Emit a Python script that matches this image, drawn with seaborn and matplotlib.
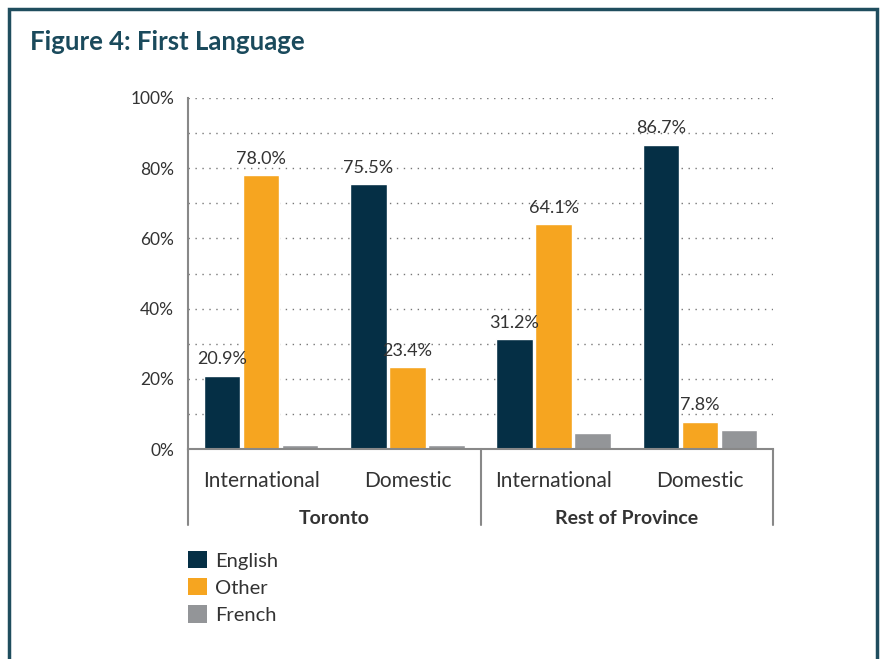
import matplotlib
matplotlib.use("Agg")
import matplotlib.pyplot as plt
from matplotlib.patches import Rectangle, Patch
from matplotlib.ticker import MultipleLocator, FuncFormatter
import matplotlib.transforms as mtransforms
import seaborn as sns
import pandas as pd

# ---- data ----
regions = ["Toronto", "Toronto", "Rest of Province", "Rest of Province"]
student_types = ["International", "Domestic", "International", "Domestic"]
languages = ["English", "Other", "French"]
english = [20.9, 75.5, 31.2, 86.7]
other = [78.0, 23.4, 64.1, 7.8]
french = [1.1, 1.1, 4.7, 5.5]
group_labels = ["Toronto", "Rest of Province"]
title = "Figure 4: First Language"
yticks = [0, 20, 40, 60, 80, 100]

colors = {"English": "#052f45", "Other": "#f6a520", "French": "#939598"}

cats = [f"{r}|{s}" for r, s in zip(regions, student_types)]
rows = []
for lang, vals in zip(languages, [english, other, french]):
    for c, v in zip(cats, vals):
        rows.append({"cat": c, "lang": lang, "value": v})
df = pd.DataFrame(rows)

sns.set_theme(style="white")
plt.rcParams["font.family"] = ["Lato", "DejaVu Sans"]
text_color = "#333333"

fig = plt.figure(figsize=(8.83, 6.59), dpi=100)
W, H = 883, 659
ax = fig.add_axes([188 / W, 1 - 449 / H, (773 - 188) / W, (449 - 98) / H])

sns.barplot(data=df, x="cat", y="value", hue="lang", order=cats,
            hue_order=languages, palette=colors, width=0.8, gap=0.06,
            saturation=1, ax=ax, legend=False, errorbar=None)

ax.set_xlim(-0.5, len(cats) - 0.5)
ax.set_ylim(0, 100)
ax.set_yticks(yticks)
ax.yaxis.set_minor_locator(MultipleLocator(10))
ax.yaxis.set_major_formatter(FuncFormatter(lambda v, p: f"{v:.0f}%"))
ax.grid(which="both", axis="y", linestyle=(0, (1, 4)), color="#777777", linewidth=1.0)
ax.set_axisbelow(True)
ax.tick_params(axis="y", which="both", length=0, labelsize=12.5, labelcolor=text_color, pad=10)
ax.tick_params(axis="x", length=0, labelsize=15, labelcolor=text_color, pad=16)
ax.set_xticks(range(len(cats)))
ax.set_xticklabels(student_types)
ax.set_xlabel("")
ax.set_ylabel("")
for s in ["top", "right"]:
    ax.spines[s].set_visible(False)
for s in ["left", "bottom"]:
    ax.spines[s].set_color("#888888")
    ax.spines[s].set_linewidth(1.5)

# value labels for English and Other
for cont, lang in zip(ax.containers, languages):
    if lang in ("English", "Other"):
        ax.bar_label(cont, fmt="%.1f%%", padding=6, fontsize=13, color=text_color)

# group separators and labels below axis
trans = mtransforms.blended_transform_factory(ax.transData, ax.transAxes)
sep_bottom = -(525 - 449) / (449 - 98)
for xpos in [-0.5, 1.5, 3.5]:
    ax.plot([xpos, xpos], [0, sep_bottom], transform=trans, color="#888888",
            linewidth=1.5, clip_on=False)
for i, g in enumerate(group_labels):
    ax.text(2 * i + 0.5, -(519 - 449) / (449 - 98), g, transform=trans,
            ha="center", va="center", fontsize=14, fontweight="bold", color=text_color)

# legend
handles = [Patch(facecolor=colors[l], edgecolor="none") for l in languages]
fig.legend(handles, languages, loc="upper left",
           bbox_to_anchor=(188 / W, 1 - 551 / H), frameon=False,
           borderaxespad=0, borderpad=0,
           fontsize=14.5, handlelength=0.95, handleheight=0.95,
           handletextpad=0.4, labelspacing=0.42, labelcolor=text_color)

# title
fig.text(30 / W, 1 - 42 / H, title, ha="left", va="center", fontsize=18.5,
         fontweight="bold", color="#1a4a5c")

# frame
fig.add_artist(Rectangle((9 / W, -0.05), (877 - 9) / W, 1 - 9 / H + 0.05,
                         transform=fig.transFigure, fill=False,
                         edgecolor="#1f4d5e", linewidth=2.5))

fig.savefig("out.png", dpi=100)
